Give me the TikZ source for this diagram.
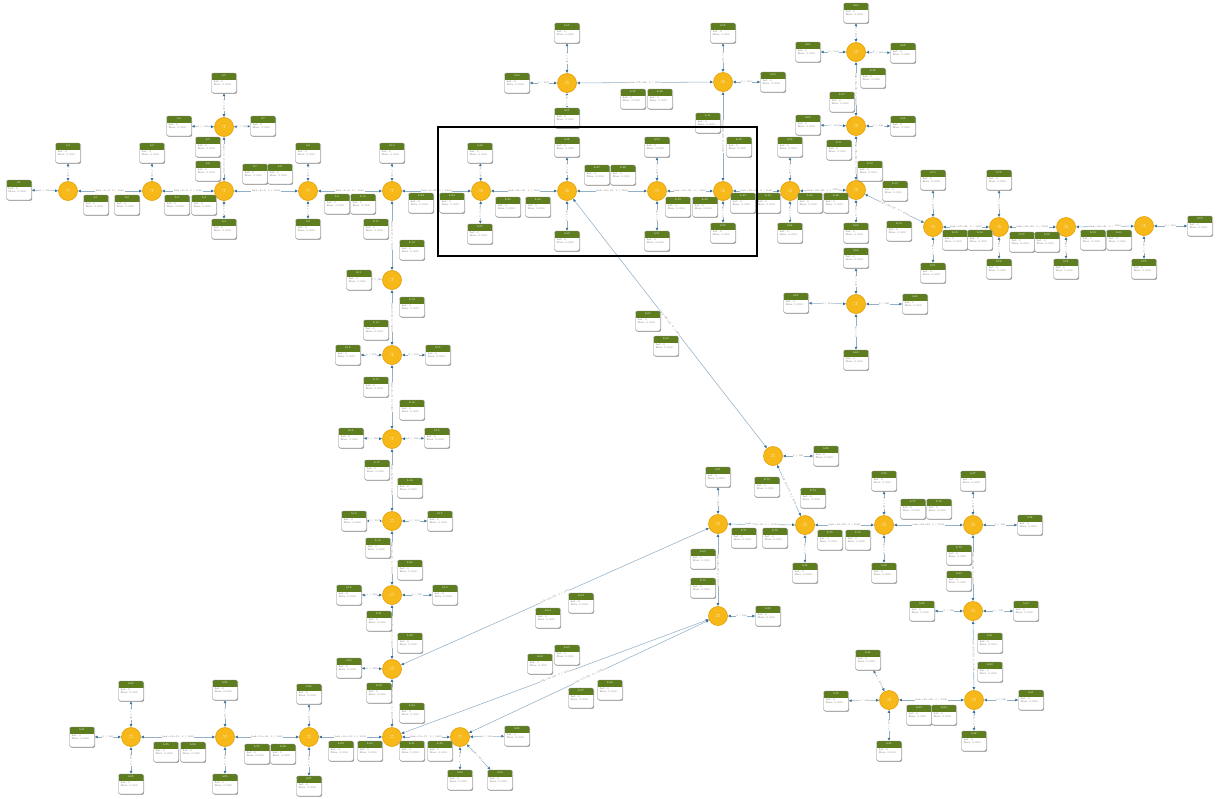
\documentclass[tikz,border=0pt]{standalone}
\usetikzlibrary{arrows.meta,shadows}
\definecolor{hdr}{HTML}{5E7D1F}
\definecolor{bxline}{HTML}{8A8A8A}
\definecolor{cyel}{HTML}{F7B81A}
\definecolor{cyeld}{HTML}{E39E00}
\definecolor{lnk}{HTML}{93B0C6}
\definecolor{tipc}{HTML}{3B7196}
\definecolor{btxt}{HTML}{707070}
\pgfdeclarelayer{bg}
\pgfsetlayers{bg,main}
\tikzset{
 bx/.style={draw=bxline, line width=0.4pt, fill=white, rounded corners=2.2pt,
   minimum width=25pt, minimum height=20pt, inner sep=0pt, text width=21pt, align=left,
   font=\fontsize{2.6}{3}\selectfont, text=btxt,
   drop shadow={shadow xshift=0.7pt, shadow yshift=-0.9pt, opacity=0.5, fill=black!70},
   path picture={\fill[hdr, sharp corners] ([yshift=1pt]path picture bounding box.north west) rectangle ([yshift=-6.5pt]path picture bounding box.north east);}},
 hdrlab/.style={text=white, font=\fontsize{2.6}{3}\selectfont, inner sep=0pt, anchor=center, yshift=-3.2pt},
 hub/.style={circle, fill=cyel, draw=cyeld, line width=0.6pt, minimum size=19pt, inner sep=0pt,
   align=center, text=white, font=\fontsize{2.4}{2.8}\selectfont},
 lk/.style={draw=lnk, line width=0.55pt, {Latex[length=3pt,width=3pt,color=tipc]}-{Latex[length=3pt,width=3pt,color=tipc]}},
 elab/.style={font=\fontsize{2.4}{2.6}\selectfont, text=btxt, fill=white, inner sep=0.3pt, sloped},
 frm/.style={draw=black, line width=1.8pt, minimum width=319pt, minimum height=129pt, anchor=north west, inner sep=0pt}
}
\newcommand{\hb}[3]{\node[hub] (#1) at (#2,#3) {sw\\#1};}
\newcommand{\bx}[4]{\node[bx, label={[hdrlab]north:#4}] (#1) at (#2,#3) {Lat: 0\\Max: 0.000};}
\begin{document}
\begin{tikzpicture}[x=1pt,y=-1pt]
\useasboundingbox (0,0) rectangle (1221,798);
% hubs
\foreach \n/\x/\y in {c1/68/191, c2/152/191, c3/224/191, c4/224/127, c5/308/191, c6/392/191,
  c7/392/280, c8/392/355, c9/392/439, c10/392/521, c11/392/595, c12/392/669, c13/392/737,
  c14/131/737, c15/225/737, c16/309/737, c17/460/737, c18/718/524, c19/805/525, c20/718/616,
  c21/773/456, c22/884/525, c23/973/525, c24/973/611, c25/974/700, c26/889/700,
  c27/567/83, c28/723/82, c29/481/191, c30/567/191, c31/657/191, c32/723/191, c33/790/191,
  c34/856/52, c35/856/126, c36/856/190, c37/933/227, c38/999/227, c39/1066/227, c40/1144/226, c41/856/304}
  {\hb{\n}{\x}{\y}}
% links between hubs
\begin{pgfonlayer}{bg}
\foreach \a/\b in {c1/c2, c2/c3, c3/c5, c5/c6, c6/c29, c29/c30, c30/c31, c31/c32, c32/c33, c33/c36,
  c3/c4, c6/c7, c7/c8, c8/c9, c9/c10, c10/c11, c11/c12, c12/c13, c14/c15, c15/c16, c16/c13, c13/c17,
  c12/c18, c13/c20, c17/c20, c30/c21, c21/c19, c18/c19, c18/c20, c19/c22, c22/c23, c23/c24, c24/c25,
  c25/c26, c27/c28, c28/c32, c34/c35, c35/c36, c36/c37, c37/c38, c38/c39, c39/c40}
  {\draw[lk] (\a) -- node[elab] {link \a-\b: 0 / 1000} (\b);}
\end{pgfonlayer}
% end-point boxes with their links
\foreach \n/\x/\y/\c in {b1/19/190/c1, b2/68/153/c1, b3/152/153/c2, b4/224/229/c3, b5/224/83/c4,
  b6/179/126/c4, b7/263/126/c4, b8/308/153/c5, b9/308/229/c5, b10/392/153/c6, b11/359/280/c7,
  b12/348/355/c8, b13/438/355/c8, b14/351/438/c9, b15/437/438/c9, b16/354/521/c10, b17/440/521/c10,
  b18/349/595/c11, b19/445/595/c11, b20/349/668/c12, b21/82/737/c14, b22/131/691/c14, b23/131/784/c14,
  b24/225/690/c15, b25/225/784/c15, b26/309/694/c16, b27/309/786/c16, b28/517/736/c17, b29/460/780/c17,
  b30/500/780/c17, b31/718/477/c18, b32/768/616/c20, b33/826/456/c21, b34/805/573/c19, b35/884/481/c22,
  b36/884/573/c22, b37/973/481/c23, b38/1030/525/c23, b39/922/611/c24, b40/1026/611/c24, b41/1031/700/c25,
  b42/974/741/c25, b43/836/701/c26, b44/868/660/c26, b45/889/751/c26, b46/480/153/c29, b47/480/234/c29,
  b48/567/147/c30, b49/567/241/c30, b50/657/147/c31, b51/657/241/c31, b52/723/233/c32, b53/790/147/c33,
  b54/790/233/c33, b55/567/33/c27, b56/517/83/c27, b57/567/118/c27, b58/723/33/c28, b59/773/82/c28,
  b60/856/13/c34, b61/808/52/c34, b62/903/53/c34, b63/808/125/c35, b64/903/126/c35, b65/856/233/c36,
  b66/856/258/c41, b67/796/303/c41, b68/915/304/c41, b69/856/360/c41, b70/933/180/c37, b71/933/273/c37,
  b72/999/180/c38, b73/999/269/c38, b74/1066/269/c39, b75/1144/269/c40, b76/1200/226/c40}
  {\bx{\n}{\x}{\y}{\n}
   \begin{pgfonlayer}{bg}\draw[lk] (\n) -- node[elab] {0 / 100} (\c);\end{pgfonlayer}}
% link-state boxes beside the links
\foreach \x/\y [count=\i] in {96/205, 127/205, 177/205, 204/205, 208/147, 208/171, 255/174, 280/174,
  337/204, 363/204, 376/229, 412/250, 412/307, 376/330, 376/387, 412/410, 377/470, 410/488, 378/548,
  410/570, 379/621, 410/643, 379/693, 412/713, 166/752, 193/752, 257/754, 283/754, 341/751, 370/751,
  412/751, 440/751, 421/203, 452/203, 508/207, 538/207, 597/175, 623/175, 678/207, 705/207, 708/123,
  739/147, 743/203, 768/203, 810/203, 836/203, 633/99, 660/99, 873/78, 842/102, 839/150, 870/171,
  895/191, 899/231, 955/240, 980/240, 1022/242, 1047/242, 1093/240, 1119/240, 648/321, 666/346,
  581/603, 548/618, 567/655, 540/664, 581/698, 610/690, 703/559, 703/588, 744/538, 775/538, 767/487,
  813/498, 830/540, 858/540, 913/509, 939/509, 959/555, 959/581, 990/643, 990/672, 919/715, 944/715}
  {\bx{l\i}{\x}{\y}{L\i}}
% highlight frame
\node[frm] (frame) at (437,126) {};
\end{tikzpicture}
\end{document}
